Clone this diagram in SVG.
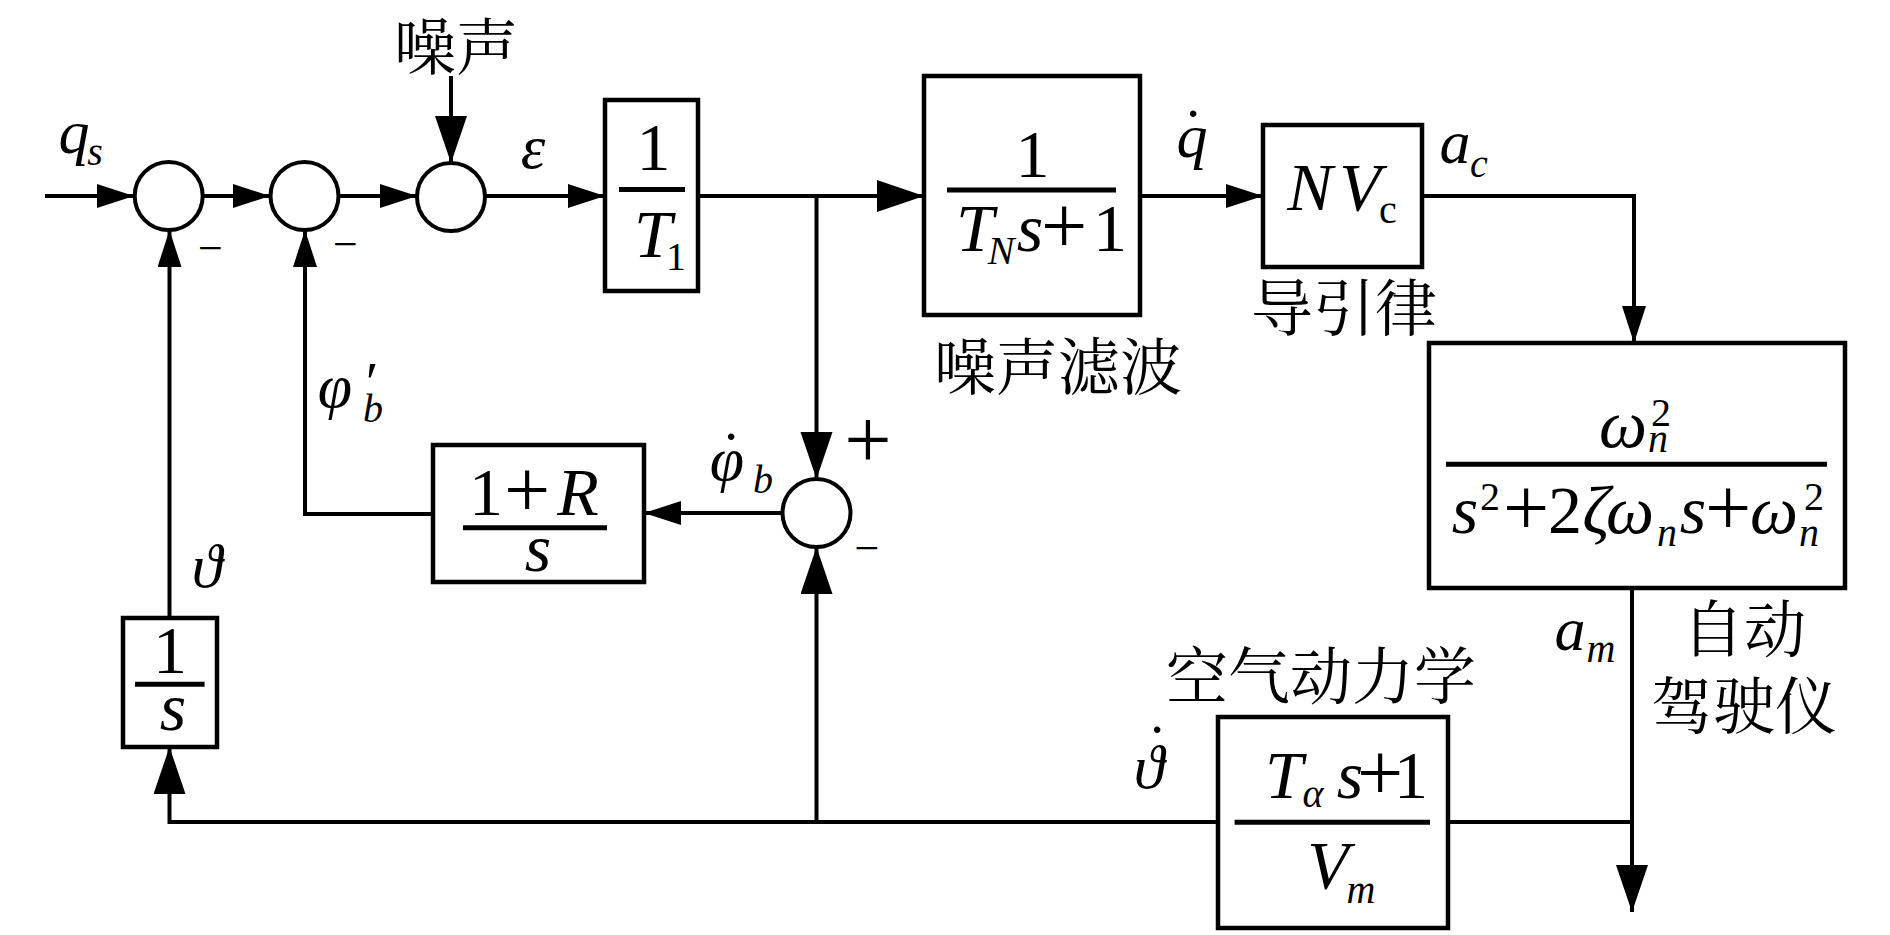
<svg xmlns="http://www.w3.org/2000/svg" width="1890" height="935" viewBox="0 0 1890 935">
<style>
.ln{fill:none;stroke:#000;stroke-width:4}
.bx{fill:#fff;stroke:#000;stroke-width:4.5}
.sm{fill:#fff;stroke:#000;stroke-width:4}
.bar{stroke:#000;stroke-width:5}
.m{font-style:italic;font-size:68px;text-anchor:middle;fill:#000}
.u{font-style:normal}
.s{font-size:40px}
.pl{font-style:normal;font-size:82px}
.lb{font-style:italic;font-size:62px;text-anchor:middle;fill:#000}
.sg{font-size:44px;text-anchor:middle;fill:#000}
.cn{font-size:62px;text-anchor:middle;fill:#000}
</style>
<defs>
<marker id="as" markerUnits="userSpaceOnUse" markerWidth="38" markerHeight="26" refX="37" refY="12" orient="auto"><path d="M0,0 L37,12 L0,24 z" fill="#000"/></marker>
<marker id="al" markerUnits="userSpaceOnUse" markerWidth="48" markerHeight="34" refX="47" refY="16" orient="auto"><path d="M0,0 L47,16 L0,32 z" fill="#000"/></marker>
</defs>
<rect width="1890" height="935" fill="#fff"/>
<g id="connectors">
<path class="ln" d="M45,196 H134" marker-end="url(#as)"/>
<path class="ln" d="M203,196 H270" marker-end="url(#as)"/>
<path class="ln" d="M339,196 H417" marker-end="url(#as)"/>
<path class="ln" d="M451,76 V163" marker-end="url(#al)"/>
<path class="ln" d="M485,196 H605" marker-end="url(#as)"/>
<path class="ln" d="M698,196 H924" marker-end="url(#al)"/>
<path class="ln" d="M1140,196 H1263" marker-end="url(#as)"/>
<path class="ln" d="M1422,196 H1634 V343" marker-end="url(#as)"/>
<path class="ln" d="M1632,588 V912" marker-end="url(#al)"/>
<path class="ln" d="M1632,822 H169.5 V747" marker-end="url(#al)"/>
<path class="ln" d="M816.5,822 V547" marker-end="url(#al)"/>
<path class="ln" d="M816.5,196 V479" marker-end="url(#al)"/>
<path class="ln" d="M782,513 H644" marker-end="url(#as)"/>
<path class="ln" d="M433,514 H305 V230" marker-end="url(#as)"/>
<path class="ln" d="M169.5,618 V230" marker-end="url(#as)"/>
</g>
<g id="sum1"><circle class="sm" cx="168.7" cy="196" r="34"/><text class="sg" font-family="'Liberation Serif', 'Times New Roman', serif" x="210.5" y="263">−</text></g>
<g id="sum2"><circle class="sm" cx="304.5" cy="196" r="34"/><text class="sg" font-family="'Liberation Serif', 'Times New Roman', serif" x="345.5" y="259">−</text></g>
<g id="sum3"><circle class="sm" cx="451" cy="197" r="34"/></g>
<g id="sum4"><circle class="sm" cx="816.5" cy="513" r="34"/><text class="sg" font-family="'Liberation Serif', 'Times New Roman', serif" x="868" y="468" style="font-size:84px">+</text><text class="sg" font-family="'Liberation Serif', 'Times New Roman', serif" x="867" y="563">−</text></g>
<g id="noise"><text class="cn" font-family="'Noto Serif CJK SC', 'Noto Sans CJK SC', sans-serif" x="456" y="70">噪声</text></g>
<g id="block-T1">
<rect class="bx" x="605" y="100" width="93" height="191"/>
<line class="bar" x1="619" y1="189.5" x2="685" y2="189.5"/>
<text class="m" font-family="'Liberation Serif', 'Times New Roman', serif"><tspan class="u" x="653.5" y="170">1</tspan><tspan x="653" y="257">T</tspan><tspan class="u s" x="676" y="270">1</tspan></text>
</g>
<g id="block-filter">
<rect class="bx" x="924" y="76" width="216" height="239"/>
<line class="bar" x1="947" y1="190" x2="1116" y2="190"/>
<text class="m" font-family="'Liberation Serif', 'Times New Roman', serif"><tspan class="u" x="1032.5" y="177">1</tspan><tspan x="975" y="251">T</tspan><tspan class="s" x="1001" y="264">N</tspan><tspan x="1030" y="251">s</tspan><tspan class="pl" x="1064" y="253">+</tspan><tspan class="u" x="1110" y="251">1</tspan></text>
<text class="cn" font-family="'Noto Serif CJK SC', 'Noto Sans CJK SC', sans-serif" x="1058" y="390">噪声滤波</text>
</g>
<g id="block-guidance">
<rect class="bx" x="1263" y="125" width="159" height="142"/>
<text class="m" font-family="'Liberation Serif', 'Times New Roman', serif"><tspan x="1310" y="210">N</tspan><tspan x="1360" y="210">V</tspan><tspan class="u s" x="1388" y="223">c</tspan></text>
<text class="cn" font-family="'Noto Serif CJK SC', 'Noto Sans CJK SC', sans-serif" x="1344" y="331">导引律</text>
</g>
<g id="block-autopilot">
<rect class="bx" x="1429" y="343" width="416" height="245"/>
<line class="bar" x1="1446" y1="464.3" x2="1827" y2="464.3"/>
<text class="m" font-family="'Liberation Serif', 'Times New Roman', serif"><tspan x="1623" y="447">ω</tspan><tspan class="s" x="1658" y="452">n</tspan><tspan class="u s" x="1661" y="426">2</tspan></text>
<text class="m" font-family="'Liberation Serif', 'Times New Roman', serif"><tspan x="1465" y="533">s</tspan><tspan class="u s" x="1490" y="510">2</tspan><tspan class="pl" x="1526" y="535">+</tspan><tspan class="u" x="1565" y="533">2</tspan><tspan x="1596" y="533">ζ</tspan><tspan x="1630" y="533">ω</tspan><tspan class="s" x="1667" y="546">n</tspan><tspan x="1693" y="533">s</tspan><tspan class="pl" x="1728" y="535">+</tspan><tspan x="1774" y="533">ω</tspan><tspan class="s" x="1809" y="546">n</tspan><tspan class="u s" x="1814" y="510">2</tspan></text>
<text class="cn" font-family="'Noto Serif CJK SC', 'Noto Sans CJK SC', sans-serif" x="1744" y="652">自动</text>
<text class="cn" font-family="'Noto Serif CJK SC', 'Noto Sans CJK SC', sans-serif" x="1744" y="729">驾驶仪</text>
</g>
<g id="block-rate">
<rect class="bx" x="433" y="445" width="211" height="137"/>
<line class="bar" x1="463" y1="527.7" x2="607" y2="527.7"/>
<text class="m" font-family="'Liberation Serif', 'Times New Roman', serif"><tspan class="u" x="486" y="515">1</tspan><tspan class="pl" x="527" y="517">+</tspan><tspan x="578" y="515">R</tspan><tspan x="538" y="571">s</tspan></text>
</g>
<g id="block-integrator">
<rect class="bx" x="123" y="618" width="94" height="129"/>
<line class="bar" x1="135" y1="684.3" x2="204.6" y2="684.3"/>
<text class="m" font-family="'Liberation Serif', 'Times New Roman', serif"><tspan class="u" x="170" y="673">1</tspan><tspan x="173" y="730">s</tspan></text>
</g>
<g id="block-aero">
<rect class="bx" x="1218" y="717" width="230" height="211"/>
<line class="bar" x1="1234.6" y1="822.3" x2="1430" y2="822.3"/>
<text class="m" font-family="'Liberation Serif', 'Times New Roman', serif"><tspan x="1284" y="798">T</tspan><tspan class="s" x="1313" y="807">α</tspan><tspan x="1350" y="798">s</tspan><tspan class="pl" x="1380" y="800">+</tspan><tspan class="u" x="1411" y="798">1</tspan><tspan x="1328" y="888">V</tspan><tspan class="s" x="1361" y="903">m</tspan></text>
<text class="cn" font-family="'Noto Serif CJK SC', 'Noto Sans CJK SC', sans-serif" x="1321" y="699">空气动力学</text>
</g>
<g id="labels" font-family="'Liberation Serif', 'Times New Roman', serif">
<text class="lb"><tspan x="74" y="153">q</tspan><tspan class="s" x="95" y="165">s</tspan></text>
<text class="lb" x="533" y="168">ε</text>
<text class="lb"><tspan x="1192" y="157">q</tspan><tspan class="u" x="1193" y="151">˙</tspan></text>
<text class="lb"><tspan x="1455" y="163">a</tspan><tspan class="s" x="1479" y="177">c</tspan></text>
<text class="lb"><tspan x="335" y="407">φ</tspan><tspan class="u" x="372" y="402" style="font-size:58px">′</tspan><tspan class="s" x="373" y="422">b</tspan></text>
<text class="lb"><tspan x="727" y="480">φ</tspan><tspan class="u" x="731" y="474">˙</tspan><tspan class="s" x="763" y="493">b</tspan></text>
<text class="lb" x="207" y="587">ϑ</text>
<text class="lb"><tspan x="1149" y="788">ϑ</tspan><tspan class="u" x="1157" y="767">˙</tspan></text>
<text class="lb"><tspan x="1570" y="650">a</tspan><tspan class="s" x="1601" y="662">m</tspan></text>
</g>
</svg>
